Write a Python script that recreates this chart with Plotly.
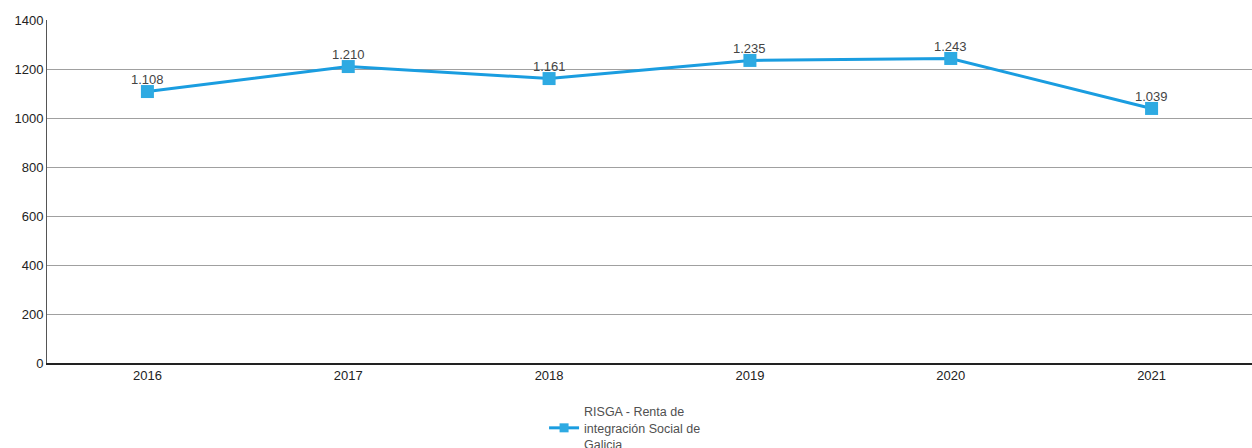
import plotly.graph_objects as go

years = ["2016", "2017", "2018", "2019", "2020", "2021"]
values = [1108, 1210, 1161, 1235, 1243, 1039]
labels = ["1.108", "1.210", "1.161", "1.235", "1.243", "1.039"]
series_name = "RISGA - Renta de<br>integración Social de<br>Galicia"
y_ticks = [0, 200, 400, 600, 800, 1000, 1200, 1400]

line_color = "#1a9de0"
marker_color = "#2eaae2"

fig = go.Figure()
fig.add_trace(go.Scatter(
    x=years, y=values, mode="lines+markers",
    name=series_name, showlegend=False,
    line=dict(color=line_color, width=3),
    marker=dict(symbol="square", size=13, color=marker_color),
))
# legend entry with a smaller symbol, as in the reference
fig.add_trace(go.Scatter(
    x=[None], y=[None], mode="lines+markers", name=series_name,
    line=dict(color=line_color, width=3),
    marker=dict(symbol="square", size=9, color=marker_color),
))

for i, (v, lab) in enumerate(zip(values, labels)):
    fig.add_annotation(x=i, y=v, xref="x", yref="y", text=lab, showarrow=False,
                       yshift=12,
                       font=dict(family="Liberation Sans, Arial", size=13, color="#444444"))

fig.update_layout(
    width=1252, height=448,
    margin=dict(l=47, r=0, t=20, b=85, autoexpand=False),
    paper_bgcolor="white", plot_bgcolor="white",
    font=dict(family="Liberation Sans, Arial", size=13, color="#222222"),
    showlegend=True,
    legend=dict(orientation="h", x=0.4125, xanchor="left", y=-0.099, yanchor="top",
                font=dict(size=12.5, color="#505050"), bgcolor="rgba(0,0,0,0)"),
    xaxis=dict(type="category", range=[-0.5, 5.5], showgrid=False, automargin=False,
               showline=True, linecolor="#222222", linewidth=1.5,
               ticks="", tickfont=dict(size=13, color="#222222")),
    yaxis=dict(range=[0, 1400], tickvals=y_ticks, showgrid=True, automargin=False,
               gridcolor="#a0a0a0", gridwidth=1,
               showline=True, linecolor="#555555", linewidth=1,
               ticks="", tickfont=dict(size=13, color="#222222"), zeroline=False),
)

fig.write_html("out.html", config={"displayModeBar": False},
               post_script="document.body.style.margin='0';document.body.style.overflow='hidden';")
